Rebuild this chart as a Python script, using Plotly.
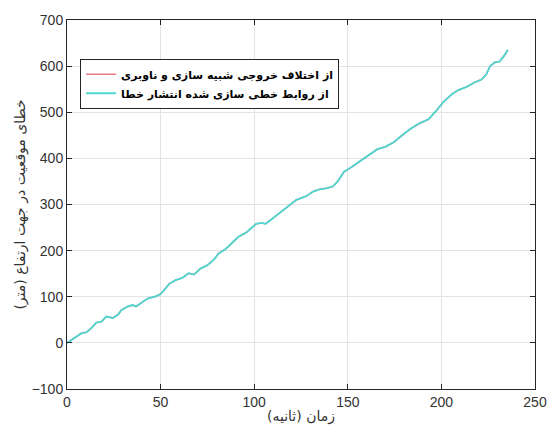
import plotly.graph_objects as go

time_s = [0, 2, 4.2, 7.8, 10.4, 13, 15.7, 18.4, 21, 24.5, 27.2, 29, 32.5, 35, 36.9, 39.6, 43,
          47.5, 50, 52, 54.6, 58, 61.6, 65, 67.8, 71.3, 74.8, 78.4, 81, 84.6, 88, 91.6, 96,
          98.7, 101, 104, 106, 109.3, 113.7, 118, 122.5, 125, 127.8, 131.4, 135, 138.4, 142,
          144.6, 148, 151.6, 155, 160.5, 165.8, 170, 174.6, 179, 183.5, 187.9, 193.2, 197.6,
          201, 205.5, 209, 213.5, 217.9, 221.4, 224, 226, 228.5, 231, 232.9, 235.5]
err_sim_nav = [0, 5, 11, 21, 23, 32, 44, 46, 57, 54, 61, 71, 79, 82, 79, 87, 96,
               101, 106, 115, 128, 136, 141, 151, 148, 161, 168, 180, 194, 203, 216, 230, 240,
               250, 258, 260, 258, 268, 282, 296, 310, 314, 318, 328, 333, 335, 339,
               350, 371, 380, 390, 406, 420, 425, 435, 450, 464, 475, 485, 505,
               522, 539, 548, 555, 565, 571, 582, 600, 608, 610, 619, 635]
err_linearized = [0, 5, 11, 21, 23, 32, 44, 46, 57, 54, 61, 71, 79, 82, 79, 87, 96,
                  101, 106, 115, 128, 136, 141, 151, 148, 161, 168, 180, 194, 203, 216, 230, 240,
                  250, 258, 260, 258, 268, 282, 296, 310, 314, 318, 328, 333, 335, 339,
                  350, 371, 380, 390, 406, 420, 425, 435, 450, 464, 475, 485, 505,
                  522, 539, 548, 555, 565, 571, 582, 600, 608, 610, 619, 635]

name_red = "از اختلاف خروجی شبیه سازی و ناوبری"
name_cyan = "از روابط خطی سازی شده انتشار خطا"
x_title = "زمان (ثانیه)"
y_title = "خطای موقعیت در جهت ارتفاع (متر)"

fig = go.Figure()
fig.add_trace(go.Scatter(x=time_s, y=err_sim_nav, mode="lines", name=name_red,
                         line=dict(color="#e57a85", width=1.5)))
fig.add_trace(go.Scatter(x=time_s, y=err_linearized, mode="lines", name=name_cyan,
                         line=dict(color="#4fd6d0", width=1.8)))

axis_common = dict(showline=True, linecolor="#262626", linewidth=1, mirror="ticks",
                   ticks="inside", ticklen=5, tickcolor="#262626",
                   showgrid=True, gridcolor="#e3e3e3", gridwidth=1, zeroline=False,
                   tickfont=dict(family="Liberation Sans, Arial", size=14, color="#333333"))

fig.update_layout(
    width=559, height=434,
    margin=dict(l=67, r=21, t=15, b=45),
    paper_bgcolor="white", plot_bgcolor="white",
    xaxis=dict(range=[0, 250], dtick=50, tick0=0,
               title=dict(text=x_title, standoff=2,
                          font=dict(family="DejaVu Sans", size=14, color="#333333")),
               **axis_common),
    yaxis=dict(range=[-100, 700], dtick=100, tick0=0,
               title=dict(text=y_title, standoff=2,
                          font=dict(family="DejaVu Sans", size=14, color="#333333")),
               **axis_common),
    legend=dict(x=0.028, y=0.895, xanchor="left", yanchor="top",
                bgcolor="white", bordercolor="#262626", borderwidth=1,
                font=dict(family="DejaVu Sans", size=11, color="black", weight="bold"),
                tracegroupgap=0, itemwidth=30),
    showlegend=True,
)

fig.write_html("out.html")
